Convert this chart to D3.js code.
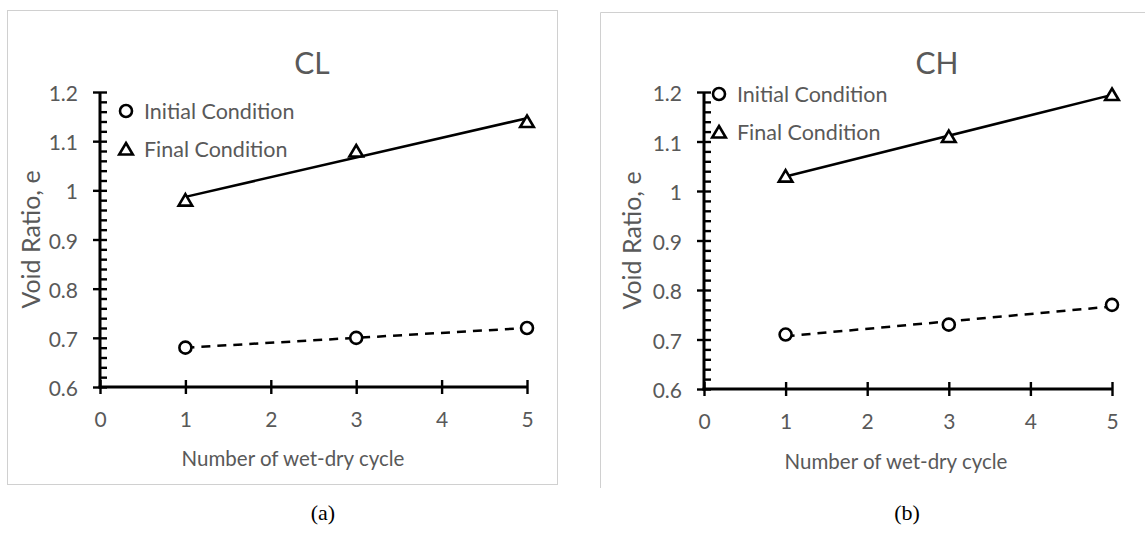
<!DOCTYPE html>
<html>
<head>
<meta charset="utf-8">
<script src="https://cdn.jsdelivr.net/npm/d3@7"></script>
<style>
  body { margin: 0; background: #fff; }
  svg { display: block; }
  text { font-family: Lato, "Liberation Sans", sans-serif; }
</style>
</head>
<body>
<svg id="fig" width="1145" height="538"></svg>
<script>
// ---- data -------------------------------------------------------------
const cycles = [1, 3, 5];
const clInitial = [0.68, 0.70, 0.72];
const clFinal = [0.98, 1.08, 1.14];
const chInitial = [0.71, 0.73, 0.77];
const chFinal = [1.03, 1.11, 1.195];

const xTicks = [0, 1, 2, 3, 4, 5];
const yTicks = [0.6, 0.7, 0.8, 0.9, 1.0, 1.1, 1.2];
const yMinorStep = 0.02;
const seriesNames = ["Initial Condition", "Final Condition"];
const panelTitles = ["CL", "CH"];
const captions = ["(a)", "(b)"];
const xAxisTitle = "Number of wet-dry cycle";
const yAxisTitle = "Void Ratio, e";

// ---- layout -----------------------------------------------------------
const panels = [
  {
    title: panelTitles[0], caption: captions[0], initial: clInitial, final: clFinal,
    frame: { x0: 7, y0: 10, x1: 557, y1: 484, closed: true },
    plot: { l: 100, r: 527, t: 92, b: 387 },
    titleX: 312, titleY: 62, legendX: 126, legendY: 111,
    yTitleX: 30, xTitleX: 293, xTitleY: 458, captionX: 323
  },
  {
    title: panelTitles[1], caption: captions[1], initial: chInitial, final: chFinal,
    frame: { x0: 600, y0: 12, x1: 1150, y1: 488, closed: false },
    plot: { l: 704, r: 1112, t: 92, b: 389 },
    titleX: 937, titleY: 62, legendX: 719, legendY: 94,
    yTitleX: 631, xTitleX: 896, xTitleY: 461, captionX: 907
  }
];

const GREY = "#595959";
const svg = d3.select("#fig");

// triangle marker centred on its bounding box
const triPath = "M0,-6L6.8,5.5L-6.8,5.5Z";
const MARK_W = 2.6;

function linearFit(xs, ys) {
  const mx = d3.mean(xs), my = d3.mean(ys);
  const sxy = d3.sum(xs, (x, i) => (x - mx) * (ys[i] - my));
  const sxx = d3.sum(xs, x => (x - mx) * (x - mx));
  const slope = sxy / sxx;
  return x => my + slope * (x - mx);
}

panels.forEach(p => {
  const g = svg.append("g");

  // frame around the chart area
  const f = p.frame;
  if (f.closed) {
    g.append("rect").attr("x", f.x0 + 0.5).attr("y", f.y0 + 0.5)
      .attr("width", f.x1 - f.x0).attr("height", f.y1 - f.y0)
      .attr("fill", "none").attr("stroke", "#d0d0d0").attr("stroke-width", 1);
  } else {
    g.append("path")
      .attr("d", `M${f.x0 + 0.5},${f.y1}V${f.y0 + 0.5}H${f.x1}`)
      .attr("fill", "none").attr("stroke", "#d0d0d0").attr("stroke-width", 1);
  }

  const x = d3.scaleLinear().domain([0, 5]).range([p.plot.l, p.plot.r]);
  const y = d3.scaleLinear().domain([0.6, 1.2]).range([p.plot.b, p.plot.t]);

  // minor ticks on the inner side of the y axis
  const minor = d3.range(0.6, 1.2001, yMinorStep).filter(v => Math.abs(Math.round(v * 10) - v * 10) > 1e-6);
  g.append("g").attr("transform", `translate(${p.plot.l},0)`)
    .call(d3.axisRight(y).tickValues(minor).tickSize(7).tickFormat(""))
    .call(s => s.select(".domain").remove())
    .call(s => s.selectAll("line").attr("stroke", "#000").attr("stroke-width", 2.4));

  // y axis with crossing major ticks
  g.append("g").attr("transform", `translate(${p.plot.l},0)`)
    .call(d3.axisLeft(y).tickValues(yTicks).tickSize(7).tickPadding(15)
      .tickFormat(d => d3.format("")(+d.toFixed(1))))
    .call(s => s.select(".domain").attr("stroke", "#000").attr("stroke-width", 3)
      .attr("d", `M0,${p.plot.b + 1.5}V${p.plot.t}`))
    .call(s => s.selectAll("line").attr("x1", 7).attr("stroke", "#000").attr("stroke-width", 2.4))
    .call(s => s.selectAll("text").attr("fill", GREY).attr("font-size", 21)
      .attr("dy", null).attr("dominant-baseline", "central"));

  // x axis with crossing major ticks
  g.append("g").attr("transform", `translate(0,${p.plot.b})`)
    .call(d3.axisBottom(x).tickValues(xTicks).tickSize(7).tickFormat(d3.format("d")))
    .call(s => s.select(".domain").attr("stroke", "#000").attr("stroke-width", 3)
      .attr("d", `M${p.plot.l - 1.5},0H${p.plot.r}`))
    .call(s => s.selectAll("line").attr("y1", -7).attr("stroke", "#000").attr("stroke-width", 2.4))
    .call(s => s.selectAll("text").attr("fill", GREY).attr("font-size", 21)
      .attr("y", 31).attr("dy", null).attr("dominant-baseline", "central"));

  // trend lines (least squares through each series)
  const series = [
    { vals: p.initial, dash: "9,7", marker: "circle" },
    { vals: p.final, dash: null, marker: "triangle" }
  ];
  series.forEach(s => {
    const fit = linearFit(cycles, s.vals);
    const x0 = d3.min(cycles), x1 = d3.max(cycles);
    g.append("line")
      .attr("x1", x(x0)).attr("y1", y(fit(x0)))
      .attr("x2", x(x1)).attr("y2", y(fit(x1)))
      .attr("stroke", "#000").attr("stroke-width", 2.5)
      .attr("stroke-dasharray", s.dash);
  });

  // markers
  series.forEach(s => {
    const pts = g.selectAll(null).data(cycles.map((c, i) => [c, s.vals[i]])).enter();
    if (s.marker === "circle") {
      pts.append("circle").attr("cx", d => x(d[0])).attr("cy", d => y(d[1])).attr("r", 6)
        .attr("fill", "#fff").attr("stroke", "#000").attr("stroke-width", MARK_W);
    } else {
      pts.append("path").attr("d", triPath)
        .attr("transform", d => `translate(${x(d[0])},${y(d[1])})`)
        .attr("fill", "#fff").attr("stroke", "#000").attr("stroke-width", MARK_W)
        .attr("stroke-linejoin", "miter");
    }
  });

  // legend
  const lg = g.append("g").attr("transform", `translate(${p.legendX},${p.legendY})`);
  lg.append("circle").attr("cx", 0).attr("cy", 0).attr("r", 6)
    .attr("fill", "#fff").attr("stroke", "#000").attr("stroke-width", MARK_W);
  lg.append("path").attr("d", triPath).attr("transform", "translate(0,38)")
    .attr("fill", "#fff").attr("stroke", "#000").attr("stroke-width", MARK_W);
  lg.selectAll("text.leg").data(seriesNames).enter().append("text")
    .attr("x", 18).attr("y", (d, i) => i * 38)
    .attr("dominant-baseline", "central")
    .attr("fill", GREY).attr("font-size", 21.5).text(d => d);

  // titles
  g.append("text").attr("x", p.titleX).attr("y", p.titleY)
    .attr("text-anchor", "middle").attr("dominant-baseline", "central")
    .attr("fill", GREY).attr("font-size", 30).text(p.title);

  g.append("text").attr("x", p.xTitleX).attr("y", p.xTitleY)
    .attr("text-anchor", "middle").attr("dominant-baseline", "central")
    .attr("fill", GREY).attr("font-size", 20.5).text(xAxisTitle);

  g.append("text")
    .attr("transform", `translate(${p.yTitleX},${(p.plot.t + p.plot.b) / 2}) rotate(-90)`)
    .attr("text-anchor", "middle").attr("dominant-baseline", "central")
    .attr("fill", GREY).attr("font-size", 25).text(yAxisTitle);

  // caption under the panel
  svg.append("text").attr("x", p.captionX).attr("y", 512)
    .attr("text-anchor", "middle").attr("dominant-baseline", "central")
    .style("font-family", "'Liberation Serif', 'Times New Roman', serif")
    .attr("font-size", 22).attr("fill", "#000").text(p.caption);
});
</script>
</body>
</html>
